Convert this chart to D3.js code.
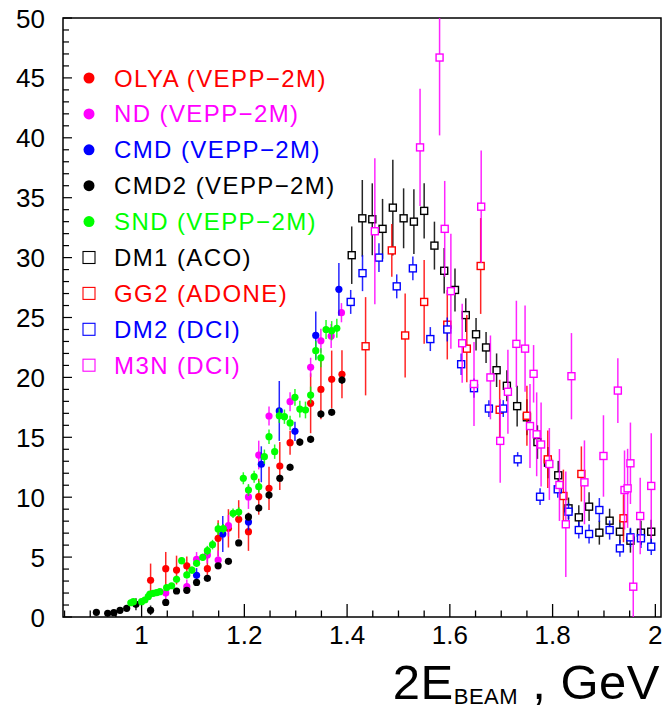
<!DOCTYPE html>
<html><head><meta charset="utf-8">
<script src="https://cdn.jsdelivr.net/npm/d3@7"></script>
<style>body{margin:0;background:#fff}svg{display:block}text{font-family:"Liberation Sans",Arial,Helvetica,sans-serif}</style>
</head><body>
<svg id="c" width="666" height="711"></svg>
<script>
// ---- data ----
const xTicks = [1, 1.2, 1.4, 1.6, 1.8, 2];
const xTickLabels = ["1", "1.2", "1.4", "1.6", "1.8", "2"];
const yTicks = [0, 5, 10, 15, 20, 25, 30, 35, 40, 45, 50];
const yTickLabels = ["0", "5", "10", "15", "20", "25", "30", "35", "40", "45", "50"];

const olyaE = [1.0175,1.047,1.068,1.088,1.128,1.149,1.169,1.189,1.208,1.228,1.248,1.269,1.289,1.329,1.349,1.370,1.390];
const olyaV = [3.06,4.03,3.92,4.26,4.03,6.57,7.40,8.15,7.12,10.04,10.74,12.6,14.55,17.84,19.0,19.84,20.26];
const olyaErr = [1.4,1.4,1.2,0.8,1.0,1.5,1.6,1.6,1.6,1.5,1.8,2.0,1.0,2.5,2.5,2.4,2.0];

const ndE = [1.047,1.088,1.107,1.128,1.149,1.169,1.208,1.228,1.248,1.289,1.329,1.349,1.369,1.389];
const ndV = [2.0,2.53,4.82,5.18,4.76,7.62,10.02,13.52,16.78,17.97,20.84,23.06,23.45,25.4];
const ndErr = [0.5,0.6,0.6,0.7,0.8,0.9,1.0,1.2,0.8,0.8,0.8,1.0,1.0,0.8];

const cmdE = [1.107,1.158,1.208,1.233,1.268,1.2985,1.339,1.384];
const cmdV = [3.48,6.93,7.93,12.75,17.2,15.5,23.5,27.35];
const cmdErr = [0.6,1.5,0.7,1.5,2.5,0.8,2.0,2.2];

const cmd2E = [0.912,0.934,0.946,0.958,0.971,0.989,1.0175,1.047,1.068,1.088,1.107,1.128,1.149,1.169,1.189,1.208,1.228,1.248,1.269,1.289,1.308,1.329,1.349,1.370,1.390];
const cmd2V = [0.39,0.31,0.36,0.56,0.72,1.06,0.56,1.22,2.17,2.23,2.89,3.23,4.28,4.65,6.18,8.35,9.10,10.18,11.58,12.5,14.6,14.83,16.94,17.09,19.78];
const cmd2Err = [0.1,0.1,0.1,0.1,0.15,0.5,0.4,0.2,0.2,0.2,0.2,0.2,0.2,0.2,0.2,0.3,0.3,0.3,0.3,0.3,0.3,0.3,0.3,0.3,0.3];

const sndE = [0.979,0.984,1.0,1.0064,1.0129,1.0162,1.0226,1.0292,1.0356,1.0487,1.0584,1.068,1.078,1.088,1.098,1.107,1.119,1.128,1.138,1.149,1.159,1.178,1.189,1.198,1.208,1.219,1.228,1.239,1.248,1.259,1.268,1.278,1.289,1.2985,1.308,1.319,1.329,1.339,1.349,1.359,1.370,1.380];
const sndV = [1.19,1.28,1.28,1.42,1.70,1.92,1.98,2.03,2.11,2.45,2.61,3.15,4.70,3.51,3.92,4.48,4.98,5.54,6.04,7.35,7.37,8.66,8.76,11.58,10.6,11.71,10.88,13.38,15.05,13.8,16.8,16.72,16.2,18.34,17.36,17.28,18.53,22.23,21.64,24.0,23.9,24.1];
const sndErr = [0.2,0.2,0.2,0.2,0.2,0.2,0.2,0.2,0.2,0.2,0.2,0.3,0.3,0.3,0.3,0.3,0.3,0.4,0.4,0.5,0.4,0.4,0.4,0.5,0.5,0.5,0.5,0.6,0.6,0.6,0.6,0.6,0.6,0.7,0.7,0.7,0.7,0.8,0.8,0.8,0.8,0.8];

const dm1E = [1.409,1.4296,1.449,1.469,1.489,1.510,1.530,1.550,1.570,1.589,1.610,1.631,1.651,1.6705,1.691,1.711,1.731,1.750,1.7705,1.791,1.811,1.831,1.851,1.871,1.891,1.911,1.931,1.9515,1.972,1.992];
const dm1V = [30.2,33.28,33.2,32.4,34.17,33.28,33.0,33.9,31.0,28.9,27.3,25.2,23.6,22.5,20.6,19.3,17.6,16.67,14.6,12.88,11.83,9.07,8.32,9.21,7.04,8.04,7.12,6.37,7.04,7.12];
const dm1Err = [2.4,3.2,3.0,2.5,4.0,2.5,2.7,2.3,2.0,1.9,1.8,1.4,1.35,1.3,1.4,1.3,1.7,1.5,1.4,1.3,1.2,0.9,1.0,1.2,1.0,1.0,1.0,1.0,1.0,1.0];

const gg2E = [1.436,1.487,1.513,1.550,1.595,1.633,1.660,1.697,1.750,1.7906,1.821,1.856,1.938];
const gg2V = [22.6,30.6,23.5,26.3,24.4,22.4,29.3,17.3,16.8,13.16,10.1,11.94,8.24];
const gg2Err = [4.1,2.2,3.5,3.5,2.9,2.8,4.0,2.5,2.5,2.4,2.2,2.3,2.0];

const dm2E = [1.407,1.430,1.462,1.4966,1.528,1.562,1.595,1.622,1.647,1.676,1.704,1.732,1.7756,1.810,1.831,1.851,1.871,1.891,1.911,1.931,1.9515,1.972,1.992];
const dm2V = [26.3,28.7,30.0,27.6,29.1,23.2,24.0,21.1,19.1,17.4,17.4,13.16,10.04,10.66,8.79,7.26,6.93,8.93,7.26,5.73,6.65,6.57,5.87];
const dm2Err = [1.0,1.5,1.2,1.0,1.0,1.0,1.0,0.9,0.8,0.7,0.7,0.6,0.7,0.7,0.7,0.7,0.8,1.0,0.8,0.7,0.8,0.8,0.7];

const m3nE = [1.454,1.542,1.580,1.590,1.602,1.624,1.647,1.661,1.679,1.698,1.713,1.7295,1.7464,1.756,1.763,1.769,1.7776,1.7937,1.8133,1.8257,1.8367,1.862,1.899,1.927,1.940,1.946,1.9515,1.957,1.9705,1.992];
const m3nV = [32.2,39.2,46.7,32.4,27.2,22.85,19.45,34.25,20.0,14.7,18.8,22.8,22.4,15.94,20.3,15.25,14.4,12.77,11.02,7.74,20.1,11.24,13.44,18.9,10.6,10.74,12.83,2.53,8.43,10.94];
const m3nErr = [6.1,4.9,6.5,4.0,4.8,3.3,3.5,4.7,3.5,3.5,3.5,3.6,3.6,3.5,2.4,3.5,3.5,3.0,3.0,4.4,3.6,3.5,3.4,2.7,3.3,3.3,3.4,4.4,3.2,4.4];

const seriesNames = ["OLYA (VEPP\u22122M)","ND (VEPP\u22122M)","CMD (VEPP\u22122M)","CMD2 (VEPP\u22122M)","SND (VEPP\u22122M)","DM1 (ACO)","GG2 (ADONE)","DM2 (DCI)","M3N (DCI)"];
const seriesColors = ["#ff0000","#ff00ff","#0000ff","#000000","#00ff00","#000000","#ff0000","#0000ff","#ff00ff"];
const seriesMarkers = ["circle","circle","circle","circle","circle","square","square","square","square"];
const seriesE = [olyaE, ndE, cmdE, cmd2E, sndE, dm1E, gg2E, dm2E, m3nE];
const seriesV = [olyaV, ndV, cmdV, cmd2V, sndV, dm1V, gg2V, dm2V, m3nV];
const seriesErr = [olyaErr, ndErr, cmdErr, cmd2Err, sndErr, dm1Err, gg2Err, dm2Err, m3nErr];

// ---- layout ----
const L = 63, R = 661, T = 18, B = 617;
const svg = d3.select("#c");
const x = d3.scaleLinear().domain([0.847, 2.011]).range([L, R]);
const y = d3.scaleLinear().domain([0, 50]).range([B, T]);

svg.append("clipPath").attr("id", "clip").append("rect")
  .attr("x", L).attr("y", T).attr("width", R - L).attr("height", B - T);

// frame
svg.append("rect").attr("x", L).attr("y", T).attr("width", R - L).attr("height", B - T)
  .attr("fill", "none").attr("stroke", "#000").attr("stroke-width", 1.5);

// ticks
const xMinor = d3.range(0.85, 2.0001, 0.05).map(v => +v.toFixed(2));
const gx = svg.append("g");
gx.selectAll("line").data(xMinor).join("line")
  .attr("x1", d => x(d)).attr("x2", d => x(d))
  .attr("y1", B).attr("y2", d => B - (xTicks.some(t => Math.abs(t - d) < 1e-6) ? 13 : 6.5))
  .attr("stroke", "#000").attr("stroke-width", 1.3);
gx.selectAll("text").data(xTicks).join("text")
  .attr("x", d => x(d)).attr("y", 644).attr("text-anchor", "middle")
  .attr("font-size", 26).text((d, i) => xTickLabels[i]);

const yMinor = d3.range(0, 51, 1);
const gy = svg.append("g");
gy.selectAll("line").data(yMinor).join("line")
  .attr("x1", L).attr("x2", d => L + (d % 5 === 0 ? 9 : 6))
  .attr("y1", d => y(d)).attr("y2", d => y(d))
  .attr("stroke", "#000").attr("stroke-width", 1.2);
gy.selectAll("text").data(yTicks).join("text")
  .attr("x", 45).attr("y", d => y(d) + 9.5).attr("text-anchor", "end")
  .attr("font-size", 26).text((d, i) => yTickLabels[i]);

// axis title
const title = svg.append("text").attr("x", 660).attr("y", 699).attr("text-anchor", "end")
  .attr("font-size", 49).attr("letter-spacing", 0.5);
title.append("tspan").text("2E");
title.append("tspan").attr("font-size", 22).attr("dy", 5).text("BEAM");
title.append("tspan").attr("dy", -5).text(" , GeV");

// data
const plot = svg.append("g").attr("clip-path", "url(#clip)");
seriesNames.forEach((name, s) => {
  const col = seriesColors[s];
  const pts = seriesE[s].map((e, i) => ({e, v: seriesV[s][i], err: seriesErr[s][i]}));
  const g = plot.append("g");
  g.selectAll("line").data(pts).join("line")
    .attr("x1", d => x(d.e)).attr("x2", d => x(d.e))
    .attr("y1", d => y(d.v + d.err)).attr("y2", d => y(d.v - d.err))
    .attr("stroke", col).attr("stroke-width", 1.5).attr("opacity", 0.85);
  if (seriesMarkers[s] === "circle") {
    g.selectAll("circle").data(pts).join("circle")
      .attr("cx", d => x(d.e)).attr("cy", d => y(d.v)).attr("r", 3.6).attr("fill", col);
  } else {
    g.selectAll("rect").data(pts).join("rect")
      .attr("x", d => x(d.e) - 3.5).attr("y", d => y(d.v) - 3.5)
      .attr("width", 7).attr("height", 7)
      .attr("fill", "#fff").attr("stroke", col).attr("stroke-width", 1.4);
  }
});

// legend
const leg = svg.append("g");
seriesNames.forEach((name, s) => {
  const cy = 78 + s * 35.9;
  const col = seriesColors[s];
  if (seriesMarkers[s] === "circle") {
    leg.append("circle").attr("cx", 89).attr("cy", cy).attr("r", 5.5).attr("fill", col);
  } else {
    leg.append("rect").attr("x", 83).attr("y", cy - 6).attr("width", 12).attr("height", 12)
      .attr("fill", "none").attr("stroke", col).attr("stroke-width", 1.1);
  }
  leg.append("text").attr("x", 114).attr("y", cy + 8.5).attr("font-size", 24)
    .attr("letter-spacing", 1.4).attr("fill", col).text(name);
});
</script>
</body></html>
